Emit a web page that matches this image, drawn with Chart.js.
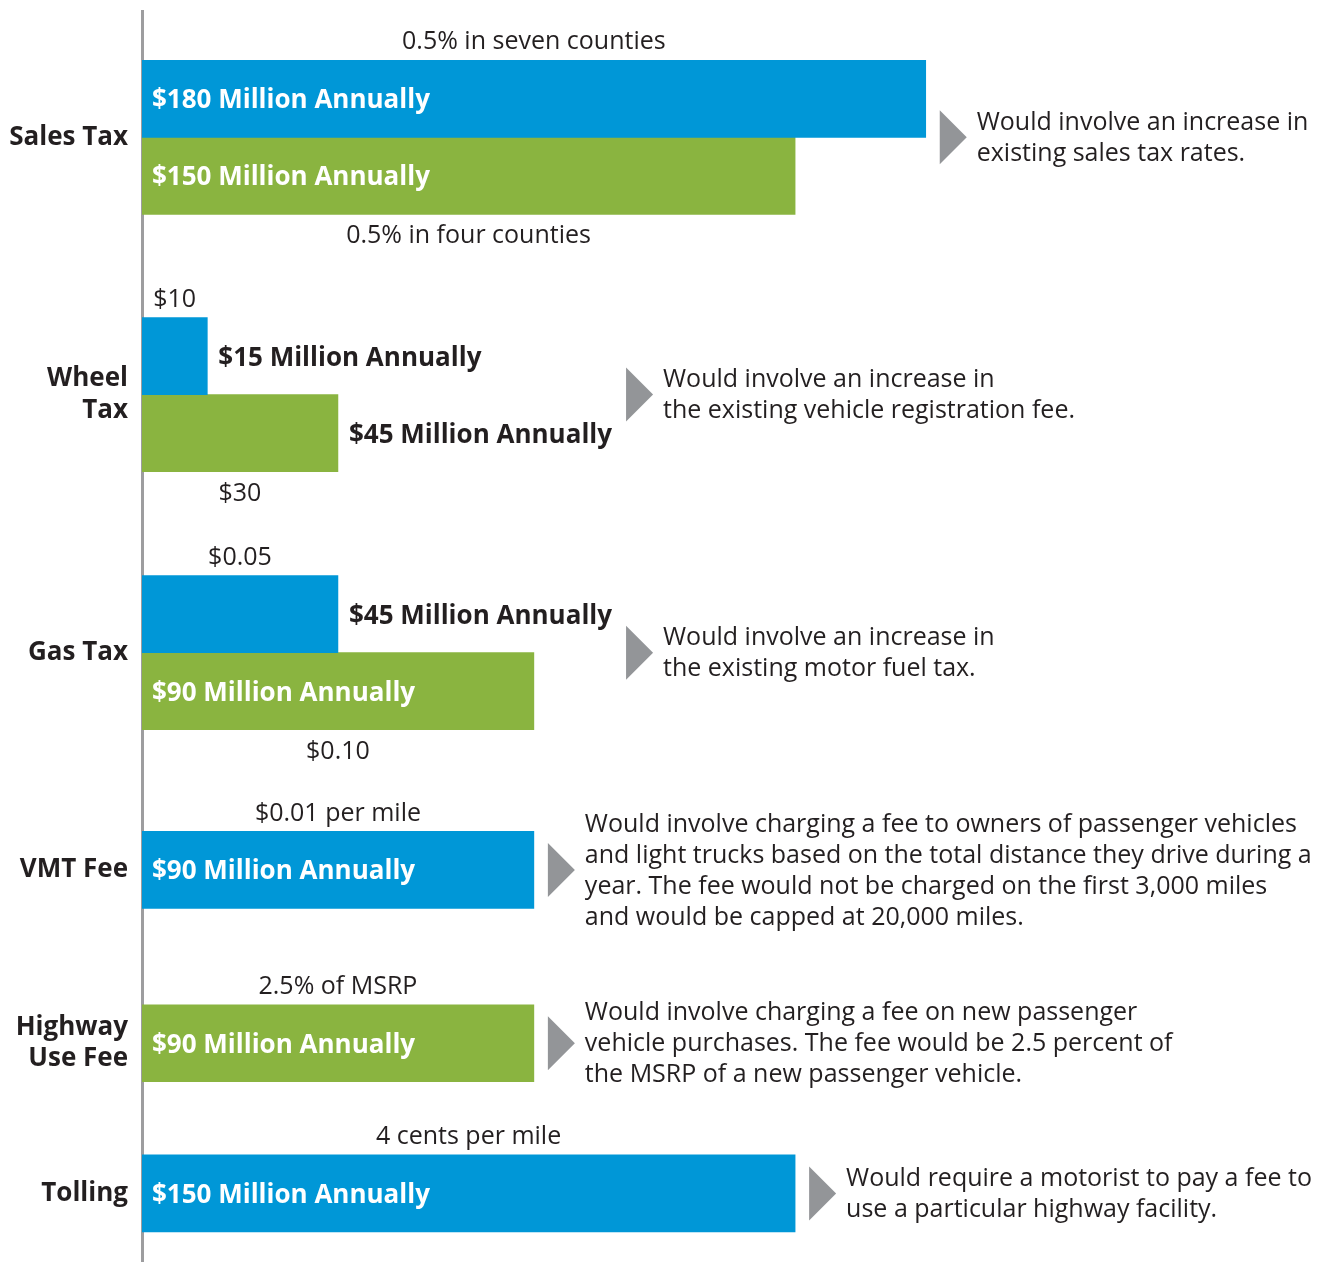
<!DOCTYPE html>
<html>
<head>
<meta charset="utf-8">
<script src="https://cdn.jsdelivr.net/npm/chart.js@4.4.1/dist/chart.umd.min.js"></script>
<style>
  html, body { margin: 0; padding: 0; background: #fff; }
  #wrap { width: 1335px; height: 1262px; position: relative; }
</style>
</head>
<body>
<div id="wrap"><canvas id="revenueChart"></canvas></div>
<script>
// Revenue options, $ million per year
const categories = ['Sales Tax', ['Wheel', 'Tax'], 'Gas Tax', 'VMT Fee', ['Highway', 'Use Fee'], 'Tolling'];
const blueValues = [180, 15, 45, 90, null, 150];
const greenValues = [150, 45, 90, null, 90, null];
const blueNotes = ['0.5% in seven counties', '$10', '$0.05', '$0.01 per mile', null, '4 cents per mile'];
const greenNotes = ['0.5% in four counties', '$30', '$0.10', null, '2.5% of MSRP', null];
const descriptions = [
  ['Would involve an increase in', 'existing sales tax rates.'],
  ['Would involve an increase in', 'the existing vehicle registration fee.'],
  ['Would involve an increase in', 'the existing motor fuel tax.'],
  ['Would involve charging a fee to owners of passenger vehicles',
   'and light trucks based on the total distance they drive during a',
   'year. The fee would not be charged on the first 3,000 miles',
   'and would be capped at 20,000 miles.'],
  ['Would involve charging a fee on new passenger',
   'vehicle purchases. The fee would be 2.5 percent of',
   'the MSRP of a new passenger vehicle.'],
  ['Would require a motorist to pay a fee to', 'use a particular highway facility.']
];

// layout, measured in bar heights
const groupGaps = [1.34, 1.35, 1.32, 1.25, 0.95];
const topSpace = 0.64;
const bottomSpace = 0.39;

const BLUE = '#0097d7';
const GREEN = '#8ab440';
const GREY = '#939598';
const INK = '#231f20';
const FONT = '"Open Sans", Lato, sans-serif';

// stack the bars of each group one under the other
const blueRows = [];
const greenRows = [];
const groupCenters = [];
let cursor = 0;
categories.forEach((cat, i) => {
  const start = cursor;
  if (blueValues[i] !== null) {
    blueRows.push({ x: blueValues[i], y: cursor + 0.5, note: blueNotes[i], above: true, group: i });
    cursor += 1;
  }
  if (greenValues[i] !== null) {
    greenRows.push({ x: greenValues[i], y: cursor + 0.5, note: greenNotes[i], above: cursor === start, group: i });
    cursor += 1;
  }
  groupCenters.push((start + cursor) / 2);
  if (i < groupGaps.length) cursor += groupGaps[i];
});

const annotate = {
  id: 'annotate',
  afterDatasetsDraw(chart) {
    const ctx = chart.ctx;
    const yScale = chart.scales.y;
    const rightEdge = categories.map(() => 0);
    ctx.save();
    ctx.textBaseline = 'middle';

    chart.data.datasets.forEach((ds, di) => {
      chart.getDatasetMeta(di).data.forEach((bar, j) => {
        const row = ds.data[j];
        const left = bar.base;
        const top = bar.y - bar.height / 2;
        const bottom = bar.y + bar.height / 2;

        // value label, inside the bar when it fits
        const label = '$' + row.x + ' Million Annually';
        ctx.font = 'bold 26px ' + FONT;
        const w = ctx.measureText(label).width;
        ctx.textAlign = 'left';
        let end = bar.x;
        if (w + 20 <= bar.x - left) {
          ctx.fillStyle = '#fff';
          ctx.fillText(label, left + 10, bar.y + 2);
        } else {
          ctx.fillStyle = INK;
          ctx.fillText(label, bar.x + 11, bar.y + 2);
          end = bar.x + 11 + w;
        }
        rightEdge[row.group] = Math.max(rightEdge[row.group], end);

        // rate note above or below the bar
        if (row.note) {
          ctx.font = '25px ' + FONT;
          ctx.fillStyle = INK;
          ctx.textAlign = 'center';
          const cx = (left + bar.x) / 2;
          ctx.fillText(row.note, cx, row.above ? top - 18 : bottom + 22);
        }
      });
    });

    // arrow and description for each group
    groupCenters.forEach((c, i) => {
      const cy = yScale.getPixelForValue(c);
      const ax = rightEdge[i] + 14;
      ctx.fillStyle = GREY;
      ctx.beginPath();
      ctx.moveTo(ax, cy - 27);
      ctx.lineTo(ax + 27, cy);
      ctx.lineTo(ax, cy + 27);
      ctx.closePath();
      ctx.fill();

      const lines = descriptions[i];
      const lh = 31;
      ctx.font = '25px ' + FONT;
      ctx.fillStyle = INK;
      ctx.textAlign = 'left';
      lines.forEach((t, k) => {
        ctx.fillText(t, ax + 37, cy + 1 + (k - (lines.length - 1) / 2) * lh);
      });
    });
    ctx.restore();
  }
};

new Chart(document.getElementById('revenueChart'), {
  type: 'bar',
  data: {
    datasets: [
      { label: 'Option A', data: blueRows, backgroundColor: BLUE },
      { label: 'Option B', data: greenRows, backgroundColor: GREEN }
    ]
  },
  options: {
    indexAxis: 'y',
    responsive: true,
    maintainAspectRatio: false,
    animation: false,
    grouped: false,
    barPercentage: 1,
    categoryPercentage: 1,
    layout: { padding: { top: 11, right: 0, bottom: 0, left: 0 } },
    plugins: {
      legend: { display: false },
      tooltip: { enabled: false }
    },
    scales: {
      x: { type: 'linear', min: 0, max: 274, display: false },
      y: {
        type: 'linear',
        reverse: true,
        offset: false,
        min: -topSpace,
        max: cursor + bottomSpace,
        grid: { display: false, drawTicks: false, offset: false },
        border: { display: true, color: '#9d9d9f', width: 3 },
        afterBuildTicks: (axis) => { axis.ticks = groupCenters.map(v => ({ value: v })); },
        afterFit: (axis) => {
          axis.width = 142;
          axis.paddingTop = 0;
          axis.paddingBottom = 0;
        },
        ticks: {
          padding: 14,
          color: INK,
          font: { family: FONT, size: 26, weight: 'bold', lineHeight: 1.2 },
          callback: (v, i) => categories[i]
        }
      }
    }
  },
  plugins: [annotate]
});
</script>
</body>
</html>
